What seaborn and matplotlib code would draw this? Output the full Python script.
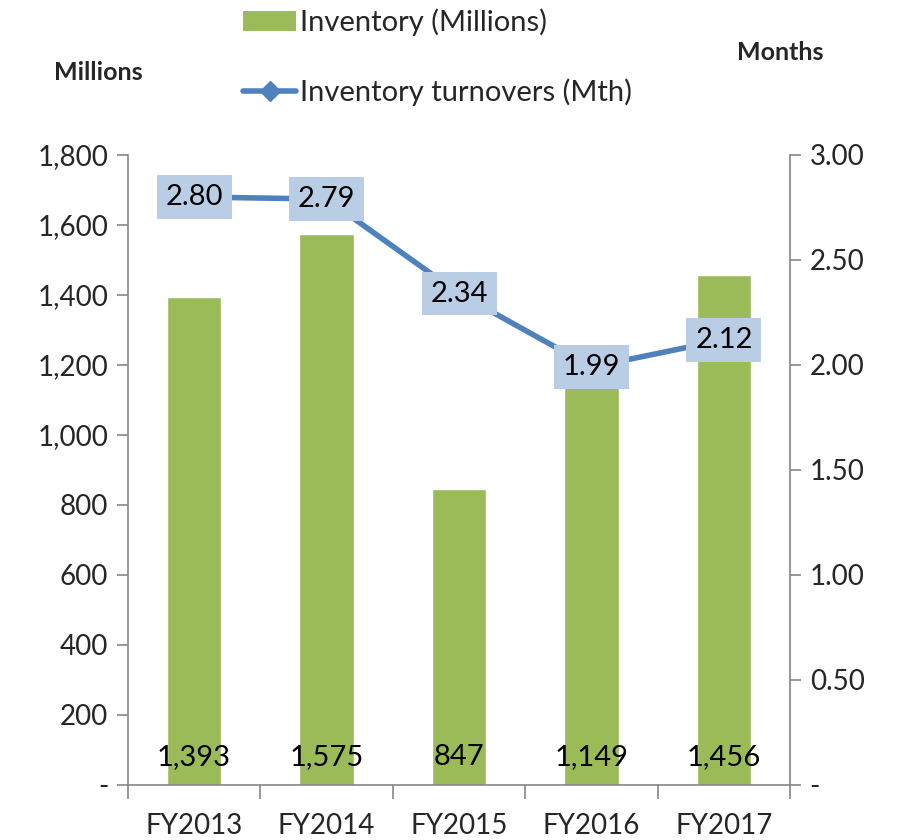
import numpy as np
import matplotlib
matplotlib.use("Agg")
import matplotlib.pyplot as plt
import seaborn as sns
from matplotlib.patches import Patch
from matplotlib.lines import Line2D
from matplotlib.ticker import FuncFormatter

sns.set_style("white")
plt.rcParams["font.family"] = ["Lato", "DejaVu Sans"]
plt.rcParams["font.size"] = 20

# data
years = ["FY2013", "FY2014", "FY2015", "FY2016", "FY2017"]
inventory = [1393, 1575, 847, 1149, 1456]
turnovers = [2.80, 2.79, 2.34, 1.99, 2.12]

bar_color = "#9BBB59"
line_color = "#4F81BD"
box_color = "#B9CDE5"
spine_color = "#868686"

fig = plt.figure(figsize=(9, 8.4), dpi=100)
ax = fig.add_axes([0.142, 0.0655, 0.736, 0.75])

sns.barplot(x=years, y=inventory, color=bar_color, width=0.41, saturation=1, ax=ax)
ax.set_ylim(0, 1800)
ax.set_xlim(-0.5, 4.5)
ax.set_yticks(np.arange(0, 1801, 200))
ax.yaxis.set_major_formatter(FuncFormatter(lambda v, p: "-" if v == 0 else f"{v:,.0f}"))
ax.set_xlabel("")
ax.set_ylabel("")

for i, v in enumerate(inventory):
    ax.text(i, 80, f"{v:,}", ha="center", va="center", fontsize=21, color="black")

ax2 = ax.twinx()
sns.lineplot(x=np.arange(len(years)), y=turnovers, color=line_color, linewidth=4,
             marker="D", markersize=10, ax=ax2)
ax2.set_ylim(0, 3.0)
ax2.set_yticks(np.arange(0, 3.01, 0.5))
ax2.yaxis.set_major_formatter(FuncFormatter(lambda v, p: "-" if v == 0 else f"{v:.2f}"))
ax2.set_xlim(-0.5, 4.5)

for i, v in enumerate(turnovers):
    ax2.text(i, v, f"{v:.2f}", ha="center", va="center", fontsize=21, color="black",
             bbox=dict(boxstyle="square,pad=0.3", fc=box_color, ec="none"), zorder=5)

# x ticks at category boundaries
ax.set_xticks(range(len(years)))
ax.set_xticklabels(years)
ax.set_xticks(np.arange(-0.5, 4.6, 1), minor=True)
ax.tick_params(axis="x", which="major", length=0, pad=20)
ax.tick_params(axis="x", which="minor", length=10, direction="out", color=spine_color, width=1.2, bottom=True)
ax.tick_params(axis="y", length=8, direction="out", color=spine_color, width=1.2, left=True, pad=6)
ax2.tick_params(axis="y", length=8, direction="out", color=spine_color, width=1.2, right=True, pad=6)

for a in (ax, ax2):
    a.spines["top"].set_visible(False)
    for s in ("left", "right", "bottom"):
        a.spines[s].set_color(spine_color)
        a.spines[s].set_linewidth(1.2)
ax.spines["right"].set_visible(False)
ax2.spines["left"].set_visible(False)
ax2.spines["bottom"].set_visible(False)

fig.text(98 / 900, 1 - 72 / 840, "Millions", fontsize=18, fontweight="bold", ha="center", va="center")
fig.text(780 / 900, 1 - 52 / 840, "Months", fontsize=18, fontweight="bold", ha="center", va="center")

handles = [Patch(facecolor=bar_color, edgecolor="none"),
           Line2D([], [], color=line_color, linewidth=4, marker="D", markersize=10)]
fig.legend(handles, ["Inventory (Millions)", "Inventory turnovers (Mth)"],
           loc="upper left", bbox_to_anchor=(217 / 900, 1.021), frameon=False,
           handlelength=1.8, handletextpad=0.15, labelspacing=1.45, fontsize=21)

fig.savefig("out.png", dpi=100)
